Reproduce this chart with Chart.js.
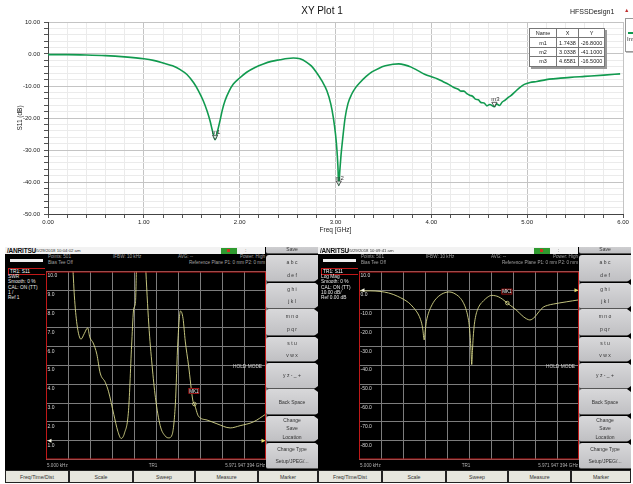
<!DOCTYPE html>
<html>
<head>
<meta charset="utf-8">
<script src="https://cdn.jsdelivr.net/npm/chart.js@4.4.1/dist/chart.umd.min.js"></script>
<style>
  html,body{margin:0;padding:0;}
  body{width:633px;height:484px;overflow:hidden;background:#fff;position:relative;font-family:"Liberation Sans",Arial,sans-serif;}
  .abs{position:absolute;white-space:nowrap;}
  #top{position:absolute;left:0;top:0;width:633px;height:236px;}
  table.mk{position:absolute;left:529px;top:28px;border-collapse:collapse;font-size:5.5px;color:#222;background:#fff;box-shadow:2px 2px 0 #9a9a9a;border:1px solid #555;}
  table.mk td{border:1px solid #777;height:8.4px;padding:0 1px;text-align:center;line-height:8px;}
  .scr{position:absolute;top:247px;width:313px;height:236px;background:#000;overflow:hidden;}
  .scr .t{position:absolute;white-space:nowrap;line-height:1;}
  .btn{position:absolute;left:261px;width:52px;background:linear-gradient(to bottom,#d8d8da,#c0c0c3);border-top-left-radius:3px;border-bottom-left-radius:2px;display:flex;flex-direction:column;justify-content:space-around;align-items:center;font-size:5px;color:#333;box-sizing:border-box;border-bottom:1px solid #555;}
  .notch{position:absolute;right:0;width:0;height:0;border-top:3px solid transparent;border-bottom:3px solid transparent;border-right:4px solid #000;}
  .bk{position:absolute;top:223px;height:13px;background:#e6e6de;border:1px solid #222;box-sizing:border-box;font-size:5.2px;color:#333;display:flex;align-items:center;justify-content:center;}
</style>
</head>
<body>
<div id="top"><canvas id="c1" width="633" height="236"></canvas></div>
<div class="abs" style="left:322px;top:6px;font-size:10px;line-height:10px;color:#111;transform:translateX(-50%);">XY Plot 1</div>
<div class="abs" style="left:570px;top:7.5px;font-size:7px;line-height:7px;color:#222;">HFSSDesign1</div>
<div class="abs" style="left:624px;top:7px;font-size:5.5px;line-height:6px;color:#c03030;">&#9650;</div>
<div class="abs" style="left:625px;top:18px;width:30px;height:32px;border:1px solid #999;background:#fff;box-shadow:1px 1px 0 #bbb;">
  <div class="abs" style="left:2px;top:13px;width:12px;height:1.5px;background:#119a4f;"></div>
  <div class="abs" style="left:1px;top:17px;font-size:6px;color:#333;">Imported</div>
</div>
<table class="mk" id="mktable"></table>

<div class="scr" id="s1" style="left:5px;"></div>
<div class="scr" id="s2" style="left:318px;"></div>

<script>
// ---------------- DATA ----------------
// HFSS simulation S11 (dB) vs frequency (GHz)
const hfssFreq = [0.00,0.20,0.40,0.60,0.80,1.00,1.10,1.20,1.30,1.38,1.45,1.52,1.57,1.62,1.66,1.69,1.72,1.7438,1.77,1.795,1.82,1.847,1.89,1.934,2.00,2.073,2.16,2.247,2.33,2.42,2.50,2.56,2.63,2.70,2.75,2.80,2.86,2.91,2.95,2.977,3.00,3.015,3.025,3.0338,3.045,3.058,3.075,3.10,3.13,3.17,3.21,3.256,3.32,3.38,3.45,3.52,3.60,3.66,3.72,3.79,3.86,3.93,4.00,4.06,4.12,4.18,4.23,4.28,4.31,4.34,4.37,4.40,4.43,4.46,4.49,4.52,4.55,4.58,4.61,4.6581,4.68,4.71,4.74,4.77,4.80,4.83,4.87,4.925,4.97,5.03,5.10,5.20,5.30,5.45,5.60,5.80,5.97];
const hfssS11 = [-0.2,-0.2,-0.3,-0.5,-0.9,-1.5,-2.0,-2.8,-3.7,-4.9,-6.4,-9.0,-11.5,-14.6,-17.8,-20.8,-24.5,-26.8,-24.0,-20.8,-17.4,-14.6,-11.6,-9.4,-7.5,-5.7,-4.2,-3.1,-2.3,-1.8,-1.4,-1.25,-1.5,-2.6,-3.8,-5.7,-8.5,-11.5,-15.5,-19.8,-25.0,-30.0,-35.0,-41.1,-36.5,-31.5,-26.5,-20.0,-15.5,-12.5,-10.5,-8.9,-7.0,-5.6,-4.5,-3.7,-3.2,-3.1,-3.4,-4.1,-5.2,-6.3,-7.1,-7.7,-8.6,-9.5,-10.4,-11.0,-11.6,-11.6,-12.4,-12.9,-13.2,-14.1,-14.3,-15.2,-15.3,-16.2,-15.8,-16.5,-15.6,-16.1,-15.0,-14.4,-13.6,-13.0,-11.9,-10.4,-9.5,-8.9,-8.6,-8.0,-7.7,-7.3,-7.0,-6.6,-6.2];
const markerNames = ['m1','m2','m3'];
const markerX = [1.7438, 3.0338, 4.6581];
const markerY = [-26.8, -41.1, -16.5];
const markerXText = ['1.7438','3.0338','4.6581'];
const markerYText = ['-26.8000','-41.1000','-16.5000'];

// Measured SWR (left analyzer screen)
const swrFreq = [0.000005,0.30,0.60,0.72,0.77,0.84,0.95,1.04,1.13,1.19,1.28,1.38,1.47,1.61,1.70,1.84,1.95,2.04,2.13,2.24,2.33,2.38,2.43,2.46,2.55,2.65,2.70,2.79,2.88,2.97,3.10,3.24,3.33,3.42,3.51,3.58,3.65,3.72,3.78,3.87,3.99,4.027,4.14,4.37,4.64,5.00,5.27,5.63,5.971947394];
const swrVal  = [14,14,13,10.5,8.7,7.2,6.4,6.7,7.0,6.5,6.2,5.6,4.6,4.1,3.6,2.4,1.5,1.12,1.4,2.6,6.3,8.0,8.4,10.5,13,13,10.5,7.2,5.0,3.3,1.8,1.24,1.15,1.3,2.9,6.3,7.9,7.5,6.3,5.0,3.1,2.95,2.3,2.1,1.9,1.68,1.8,2.0,2.42];
// Measured log magnitude S11 (right analyzer screen)
const logFreq = [0.000005,0.30,0.57,0.80,0.93,1.05,1.20,1.35,1.47,1.57,1.64,1.70,1.73,1.77,1.80,1.83,1.88,1.95,2.02,2.10,2.20,2.30,2.42,2.50,2.56,2.65,2.74,2.83,2.90,2.96,2.99,3.02,3.04,3.06,3.08,3.10,3.13,3.17,3.21,3.28,3.38,3.48,3.60,3.70,3.78,3.90,4.027,4.12,4.23,4.35,4.46,4.55,4.64,4.71,4.78,4.88,5.00,5.12,5.28,5.45,5.64,5.80,5.971947394];
const logVal  = [-0.3,-0.3,-0.6,-1.4,-2.2,-3.2,-4.7,-6.6,-9.0,-11.5,-14.0,-17.5,-20.5,-26.4,-21.0,-16.5,-12.5,-9.0,-6.4,-4.3,-2.6,-1.5,-0.9,-1.0,-1.4,-2.4,-3.9,-6.5,-9.8,-14.5,-18.3,-25,-32,-39.5,-32,-25,-18.3,-13.5,-10.7,-7.8,-5.6,-3.8,-2.7,-2.9,-3.4,-4.8,-6.8,-8.2,-9.8,-12.0,-14.0,-15.2,-15.8,-15.2,-14.0,-11.5,-9.0,-8.0,-7.3,-6.7,-6.1,-5.6,-5.1];
const mk1Freq = 4.027;
const swrMk1 = 2.95;
const logMk1 = -6.8;

const screenDates = ['05/29/2018 10:04:02 am','05/29/2018 10:09:41 am'];
const swrInfo = ['SWR','Smooth: 0 %','CAL: ON (TT)','1 /','Ref 1'];
const logInfo = ['Log Mag','Smooth: 0 %','CAL: ON (TT)','10.00 dB/','Ref 0.00 dB'];
const softKeys = [['a b c','d e f'],['g h i','j k l'],['m n o','p q r'],['s t u','v w x'],['y z - _ +'],['Back Space'],['Change','Save','Location'],['Change Type','Setup/JPEG/...']];
const bottomKeys = ['Freq/Time/Dist','Scale','Sweep','Measure','Marker'];
const startLabel = '5.000 kHz';
const stopLabel = '5.971 947 394 GHz';

// ---------------- TOP CHART ----------------
Chart.defaults.font.family = '"Liberation Sans", Arial, sans-serif';
Chart.defaults.animation = false;

const isMajorX = v => Math.abs(v - Math.round(v)) < 1e-6;
const isMajorY = v => Math.abs(v % 10) < 1e-6;

const hfssMarkers = {
  id: 'hfssMarkers',
  afterDatasetsDraw(chart) {
    const {ctx, scales: {x, y}} = chart;
    markerNames.forEach((n, i) => {
      const px = x.getPixelForValue(markerX[i]);
      const py = y.getPixelForValue(markerY[i]);
      ctx.save();
      ctx.beginPath();
      ctx.moveTo(px, py);
      ctx.lineTo(px - 2.6, py - 4.5);
      ctx.lineTo(px + 2.6, py - 4.5);
      ctx.closePath();
      ctx.fillStyle = 'rgba(255,255,255,0.7)';
      ctx.fill();
      ctx.strokeStyle = '#333';
      ctx.lineWidth = 0.8;
      ctx.stroke();
      ctx.font = '6px "Liberation Sans", Arial';
      ctx.fillStyle = '#333';
      ctx.textAlign = 'center';
      ctx.textBaseline = 'bottom';
      ctx.fillText(n, px + 1, py - 4.3);
      ctx.restore();
    });
  }
};

new Chart(document.getElementById('c1'), {
  type: 'line',
  data: {
    datasets: [{
      data: hfssFreq.map((f, i) => ({x: f, y: hfssS11[i]})),
      borderColor: '#119a4f',
      borderWidth: 1.6,
      pointRadius: 0,
      cubicInterpolationMode: 'monotone',
      fill: false
    }]
  },
  options: {
    responsive: false,
    layout: {padding: {left: 0, right: 10, top: 22, bottom: 0}},
    plugins: {legend: {display: false}, tooltip: {enabled: false}},
    scales: {
      x: {
        type: 'linear', min: 0, max: 6,
        afterFit: s => { s.height = 22; },
        ticks: {stepSize: 0.2, autoSkip: false, maxRotation: 0, padding: 1, color: '#222', font: {size: 6},
          callback: v => isMajorX(v) ? v.toFixed(2) : ''},
        grid: {color: c => isMajorX(c.tick.value) ? '#c4c4c4' : '#ebebeb', tickColor: '#555', tickLength: 4, lineWidth: 1},
        border: {color: '#444', width: 1},
        title: {display: true, text: 'Freq [GHz]', color: '#222', font: {size: 6.5}, padding: {top: 0, bottom: 2}}
      },
      y: {
        type: 'linear', min: -50, max: 10,
        afterFit: s => { s.width = 48; },
        ticks: {stepSize: 2, autoSkip: false, padding: 4, color: '#222', font: {size: 6},
          callback: v => isMajorY(v) ? v.toFixed(2) : ''},
        grid: {color: c => isMajorY(c.tick.value) ? '#c4c4c4' : '#ebebeb', tickColor: '#555', tickLength: 4, lineWidth: 1},
        border: {color: '#444', width: 1},
        title: {display: true, text: 'S11 (dB)', color: '#222', font: {size: 6.5}, padding: {top: 16, bottom: 0}}
      }
    }
  },
  plugins: [hfssMarkers]
});

// marker table
(function () {
  const t = document.getElementById('mktable');
  const widths = [27, 22, 26];
  let html = '<tr>' + ['Name', 'X', 'Y'].map((h, i) => `<td style="width:${widths[i] - 3}px">${h}</td>`).join('') + '</tr>';
  markerNames.forEach((n, i) => {
    html += `<tr><td>${n}</td><td>${markerXText[i]}</td><td>${markerYText[i]}</td></tr>`;
  });
  t.innerHTML = html;
})();

// ---------------- ANALYZER SCREENS ----------------
function buildScreen(el, cfg) {
  let h = '';
  h += '<div class="t" style="left:0;top:0;width:260px;height:7px;background:#f2f2f2;"></div>';
  h += '<div class="t" style="left:2px;top:0.5px;font-size:6.5px;font-weight:bold;color:#111;letter-spacing:-0.2px;">/ANRITSU</div>';
  h += `<div class="t" style="left:29px;top:1.5px;font-size:4.3px;color:#333;">${cfg.date}</div>`;
  h += '<div class="t" style="left:216px;top:0.5px;width:16px;height:6px;background:#2f9a2f;"></div>';
  h += '<div class="t" style="left:222px;top:2px;width:3px;height:3px;background:#d03020;"></div>';
  h += '<div class="t" style="left:240px;top:0.5px;font-size:5px;color:#333;">:</div>';
  h += '<div class="t" style="left:5px;top:12px;width:33px;height:3px;background:#eee;"></div>';
  const hs = 'font-size:4.6px;color:#a0a0a0;';
  h += `<div class="t" style="left:43px;top:8px;${hs}">Points: 501</div>`;
  h += `<div class="t" style="left:43px;top:14px;${hs}">Bias Tee Off</div>`;
  h += `<div class="t" style="left:108px;top:8px;${hs}">IFBW: 10 kHz</div>`;
  h += `<div class="t" style="left:173px;top:8px;${hs}">AVG: --</div>`;
  h += `<div class="t" style="right:53px;top:8px;${hs}">Power: High</div>`;
  h += `<div class="t" style="right:53px;top:14px;${hs}">Reference Plane P1: 0 mm P2: 0 mm</div>`;
  h += '<div class="t" style="left:3px;top:21px;width:36px;height:5px;border:1px solid #c01818;font-size:4.8px;color:#fff;padding-left:1px;line-height:5px;">TR1: S11</div>';
  cfg.info.forEach((s, i) => {
    h += `<div class="t" style="left:3px;top:${28 + i * 5.3}px;font-size:4.8px;color:#e8e8e8;">${s}</div>`;
  });
  h += `<div class="t" style="left:40px;top:20px;width:222px;height:197px;"><canvas width="222" height="197" id="${cfg.id}"></canvas></div>`;
  h += '<div class="t" style="left:228px;top:117.5px;font-size:4.8px;color:#d0d0d0;">HOLD MODE</div>';
  const bs = 'font-size:4.6px;color:#b0b0b0;top:217.3px;';
  h += `<div class="t" style="left:42px;${bs}">${startLabel}</div>`;
  h += `<div class="t" style="left:148px;transform:translateX(-50%);${bs}">TR1</div>`;
  h += `<div class="t" style="right:53px;${bs}">${stopLabel}</div>`;
  h += '<div class="btn" style="top:-4px;height:10.5px;justify-content:flex-end;"><div style="padding-bottom:1px;">Save</div></div>';
  const bounds = [8, 35.7, 62.3, 89.7, 115.7, 142.3, 169, 195.7, 222.3];
  softKeys.forEach((lines, i) => {
    const top = bounds[i], hh = bounds[i + 1] - bounds[i] - 0.7;
    h += `<div class="btn" style="top:${top}px;height:${hh}px;">` + lines.map(l => `<div>${l}</div>`).join('') + '</div>';
  });
  for (let i = 1; i < bounds.length - 1; i++) {
    h += `<div class="notch" style="top:${bounds[i] - 3.3}px;"></div>`;
  }
  const bx = [0, 64, 128, 190, 253, 313];
  bottomKeys.forEach((k, i) => {
    h += `<div class="bk" style="left:${bx[i]}px;width:${bx[i + 1] - bx[i]}px;">${k}</div>`;
  });
  el.innerHTML = h;
}

const anritsuPlugin = {
  id: 'anritsu',
  beforeDraw(chart) {
    const {ctx} = chart;
    ctx.save();
    ctx.fillStyle = '#000';
    ctx.fillRect(0, 0, chart.width, chart.height);
    ctx.restore();
  },
  afterDraw(chart, args, opts) {
    const {ctx, chartArea: a, scales: {x, y}} = chart;
    ctx.save();
    ctx.strokeStyle = '#c01818';
    ctx.lineWidth = 1;
    ctx.strokeRect(a.left + 0.5, a.top + 0.5, a.right - a.left - 1, a.bottom - a.top - 1);
    const ry = y.getPixelForValue(opts.ref);
    ctx.fillStyle = '#f4f4e0';
    ctx.beginPath();
    ctx.moveTo(a.left + 1.5, ry);
    ctx.lineTo(a.left + 5.5, ry - 2);
    ctx.lineTo(a.left + 5.5, ry + 2);
    ctx.closePath();
    ctx.fill();
    ctx.fillStyle = '#e8e070';
    ctx.beginPath();
    ctx.moveTo(a.right - 0.5, ry);
    ctx.lineTo(a.right - 4.5, ry - 2);
    ctx.lineTo(a.right - 4.5, ry + 2);
    ctx.closePath();
    ctx.fill();
    const mx = x.getPixelForValue(opts.mkF);
    const my = y.getPixelForValue(opts.mkV);
    ctx.strokeStyle = '#e0e090';
    ctx.lineWidth = 0.8;
    ctx.beginPath();
    ctx.arc(mx, my, 1.8, 0, Math.PI * 2);
    ctx.stroke();
    const bw = 11, bh = 6;
    const bxp = mx - bw / 2 - 0.5, byp = my - opts.boxGap - bh;
    ctx.fillStyle = '#000';
    ctx.fillRect(bxp, byp, bw, bh);
    ctx.strokeStyle = '#c01818';
    ctx.strokeRect(bxp + 0.5, byp + 0.5, bw - 1, bh - 1);
    ctx.fillStyle = '#f0f0f0';
    ctx.font = '4.6px "Liberation Sans", Arial';
    ctx.textAlign = 'center';
    ctx.textBaseline = 'middle';
    ctx.fillText('MK1', bxp + bw / 2, byp + bh / 2 + 0.3);
    ctx.restore();
  }
};

function screenChart(id, freq, vals, ymin, ymax, step, ref, mkV, boxGap) {
  new Chart(document.getElementById(id), {
    type: 'line',
    data: {
      datasets: [{
        data: freq.map((f, i) => ({x: f, y: vals[i]})),
        borderColor: '#d8d88a',
        borderWidth: 0.9,
        pointRadius: 0,
        cubicInterpolationMode: 'monotone',
        fill: false
      }]
    },
    options: {
      responsive: false,
      layout: {padding: 1},
      plugins: {legend: {display: false}, tooltip: {enabled: false},
        anritsu: {ref: ref, mkF: mk1Freq, mkV: mkV, boxGap: boxGap}},
      scales: {
        x: {
          type: 'linear', min: 0.000005, max: 5.971947394,
          afterFit: s => { s.height = 0; },
          afterBuildTicks: s => { s.ticks = Array.from({length: 11}, (_, i) => ({value: s.min + (s.max - s.min) * i / 10})); },
          ticks: {display: false},
          grid: {color: '#7c7c7c', drawTicks: false, lineWidth: 1},
          border: {display: false}
        },
        y: {
          type: 'linear', min: ymin, max: ymax,
          afterFit: s => { s.width = 0; },
          ticks: {stepSize: step, autoSkip: false, mirror: true, padding: 1.5, labelOffset: 4.6, color: '#dcdcdc',
            font: {size: 5}, callback: v => v === ymin ? '' : v.toFixed(1)},
          grid: {color: '#7c7c7c', drawTicks: false, lineWidth: 1},
          border: {display: false}
        }
      }
    },
    plugins: [anritsuPlugin]
  });
}

buildScreen(document.getElementById('s1'), {id: 'c2', date: screenDates[0], info: swrInfo});
buildScreen(document.getElementById('s2'), {id: 'c3', date: screenDates[1], info: logInfo});
screenChart('c2', swrFreq, swrVal, 0, 10, 1, 1, swrMk1, 10);
screenChart('c3', logFreq, logVal, -90, 10, 10, 0, logMk1, 8.5);
</script>
</body>
</html>
